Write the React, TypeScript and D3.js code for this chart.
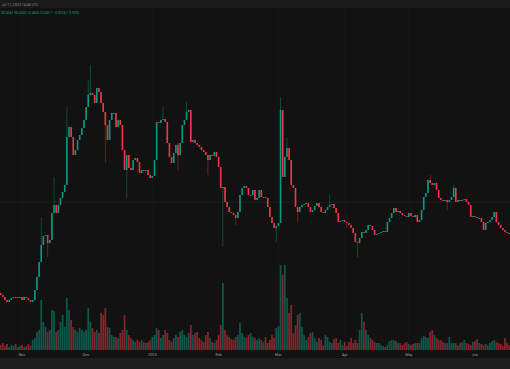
import * as d3 from 'd3';

// daily candles, Oct 22 2022 .. Jun 17 2023 (price in arbitrary units)
const firstOpen = 107;
const closes = [
  105, 103, 100, 98, 100, 102, 103, 102, 103, 103,
  100, 103, 102, 100, 98, 100, 110, 123, 138, 155,
  164, 165, 157, 160, 187, 195, 187, 195, 202, 208,
  215, 263, 273, 263, 245, 250, 260, 265, 272, 280,
  293, 305, 307, 305, 297, 312, 308, 297, 288, 275,
  260, 280, 287, 287, 273, 280, 275, 250, 230, 245,
  232, 230, 240, 242, 238, 227, 230, 229, 230, 225,
  222, 224, 240, 278, 277, 280, 281, 278, 257, 243,
  237, 247, 255, 245, 257, 275, 280, 288, 290, 258,
  260, 257, 255, 253, 250, 248, 245, 240, 245, 244,
  248, 243, 233, 212, 213, 198, 193, 188, 187, 185,
  182, 188, 205, 212, 214, 212, 205, 205, 210, 200,
  202, 210, 203, 203, 202, 193, 183, 177, 172, 174,
  177, 290, 223, 243, 252, 240, 215, 212, 193, 188,
  193, 195, 196, 197, 193, 188, 190, 194, 197, 193,
  188, 187, 190, 193, 195, 196, 192, 187, 178, 179,
  180, 178, 177, 175, 172, 167, 158, 157, 162, 168,
  167, 170, 175, 174, 170, 165, 166, 167, 168, 169,
  168, 178, 182, 187, 192, 188, 189, 187, 185, 184,
  183, 187, 184, 183, 185, 178, 180, 190, 203, 207,
  220, 217, 215, 217, 210, 202, 200, 199, 200, 198,
  200, 203, 212, 198, 200, 199, 200, 201, 198, 195,
  183, 184, 183, 182, 182, 178, 170, 177, 178, 180,
  183, 188, 178, 175, 172, 170, 168, 167, 166,
];

// volume (arbitrary units)
const volumes = [
  5, 7, 4, 6, 3, 5, 4, 6, 3, 4,
  5, 3, 4, 6, 4, 10, 12, 18, 20, 50,
  28, 23, 18, 20, 40, 39, 18, 20, 28, 35,
  23, 52, 40, 30, 23, 20, 18, 22, 20, 18,
  20, 42, 28, 22, 18, 20, 17, 37, 35, 42,
  23, 22, 15, 13, 13, 12, 17, 20, 35, 20,
  15, 12, 10, 8, 10, 8, 10, 8, 7, 8,
  10, 13, 15, 22, 20, 12, 15, 20, 17, 10,
  8, 12, 15, 13, 18, 20, 15, 13, 17, 25,
  15, 17, 18, 12, 10, 8, 15, 18, 12, 8,
  7, 10, 15, 25, 67, 20, 15, 13, 11, 10,
  13, 15, 27, 17, 13, 12, 15, 17, 13, 12,
  10, 12, 10, 8, 13, 7, 10, 15, 12, 22,
  24, 85, 75, 85, 52, 37, 45, 17, 25, 35,
  37, 23, 15, 10, 13, 17, 18, 12, 8, 12,
  10, 5, 15, 13, 8, 7, 11, 12, 7, 10,
  5, 8, 4, 8, 12, 7, 10, 7, 20, 37,
  28, 20, 15, 12, 10, 8, 7, 7, 5, 4,
  3, 5, 9, 10, 10, 9, 7, 7, 5, 7,
  8, 6, 5, 6, 7, 7, 7, 12, 14, 13,
  12, 18, 20, 15, 12, 10, 10, 8, 7, 7,
  13, 7, 7, 7, 5, 7, 8, 10, 7, 6,
  5, 8, 9, 11, 7, 6, 5, 6, 5, 7,
  9, 10, 8, 7, 6, 4, 12, 7, 5,
];

// notable wicks: [candle index, high, low]
const wicks: [number, number, number][] = [
  [19, 183, 138], [22, 165, 143], [25, 223, 187], [31, 293, 215],
  [41, 320, 293], [42, 335, 305], [49, 288, 237], [59, 245, 202],
  [76, 293, 280], [83, 257, 230], [87, 298, 280], [97, 245, 225],
  [104, 213, 153], [110, 185, 175], [129, 174, 158], [131, 303, 177],
  [134, 263, 243], [139, 193, 178], [154, 205, 193], [162, 178, 172],
  [167, 158, 143], [201, 225, 217], [209, 200, 190], [212, 215, 203],
];

const monthTicks = [
  Date.UTC(2022, 10, 1), Date.UTC(2022, 11, 1), Date.UTC(2023, 0, 1), Date.UTC(2023, 1, 1),
  Date.UTC(2023, 2, 1), Date.UTC(2023, 3, 1), Date.UTC(2023, 4, 1), Date.UTC(2023, 5, 1),
];
const monthLabels = ['Nov', 'Dec', '2023', 'Feb', 'Mar', 'Apr', 'May', 'Jun'];

const W = 510;
const H = 369;
const plotBottom = 350;

const UP = '#089981';
const DOWN = '#f23645';

export default function App() {
  const dates = d3.utcDay.range(new Date(Date.UTC(2022, 9, 22)), new Date(Date.UTC(2023, 5, 18)));

  const x = d3.scaleUtc()
    .domain([new Date(Date.UTC(2022, 9, 21, 16, 53)), new Date(Date.UTC(2023, 5, 17, 9, 7))])
    .range([0, W]);
  const y = d3.scaleLinear().domain([50, 400]).range([plotBottom, 0]);
  const vy = d3.scaleLinear().domain([0, 100]).range([plotBottom, plotBottom - 100]);

  const step = x(dates[1]) - x(dates[0]);
  const bodyW = step * 0.75;

  const wickMap = new Map(wicks.map(w => [w[0], w]));

  const candles = closes.map((c, i) => {
    const o = i === 0 ? firstOpen : closes[i - 1];
    const w = wickMap.get(i);
    return {
      date: dates[i],
      o,
      c,
      h: w ? w[1] : Math.max(o, c),
      l: w ? w[2] : Math.min(o, c),
      v: volumes[i],
      up: c >= o,
    };
  });

  return (
    <svg width={W} height={H} style={{ position: 'fixed', left: 0, top: 0, display: 'block' }}
      fontFamily="Roboto, 'DejaVu Sans', sans-serif">
      <rect width={W} height={H} fill="#121212" />
      <rect width={W} height={8} fill="#1a1a1a" />
      <rect y={358} width={W} height={H - 358} fill="#1e1e1e" />

      {/* grid */}
      {monthTicks.map((t, i) => (
        <line key={'g' + i} x1={x(new Date(t))} x2={x(new Date(t))} y1={8} y2={plotBottom}
          stroke="#171717" strokeWidth={1} />
      ))}
      <line x1={0} x2={W} y1={y(198)} y2={y(198)} stroke="#1a1e1d" strokeWidth={1} />

      {/* volume */}
      {candles.map((d, i) => (
        <rect key={'v' + i} x={x(d.date) - step * 0.42} width={step * 0.84}
          y={vy(d.v)} height={plotBottom - vy(d.v)}
          fill={d.up ? UP : DOWN} fillOpacity={0.5} />
      ))}

      {/* candles */}
      {candles.map((d, i) => {
        const cx = x(d.date);
        const top = y(Math.max(d.o, d.c));
        const bot = y(Math.min(d.o, d.c));
        const col = d.up ? UP : DOWN;
        return (
          <g key={'c' + i}>
            {d.h !== d.l && (
              <line x1={cx} x2={cx} y1={y(d.h)} y2={y(d.l)} stroke={col} strokeWidth={0.6} strokeOpacity={0.7} />
            )}
            <rect x={cx - bodyW / 2} width={bodyW} y={top} height={Math.max(1, bot - top)} fill={col} />
          </g>
        );
      })}

      {/* header */}
      <text x={1.5} y={5.5} fontSize={3.6} fill="#8c8c8c">
        Jul 11, 2023 14:45 UTC
      </text>
      <text x={1} y={13.5} fontSize={3.3} fill="#1f9488">
        O0.4541 H0.4602 L0.4455 C0.4517 −0.0024 (−0.53%)
      </text>

      {/* time axis */}
      {monthTicks.map((t, i) => (
        <text key={'t' + i} x={x(new Date(t))} y={355.5} fontSize={3.8} fill="#9e9e9e" textAnchor="middle">
          {monthLabels[i]}
        </text>
      ))}
    </svg>
  );
}
